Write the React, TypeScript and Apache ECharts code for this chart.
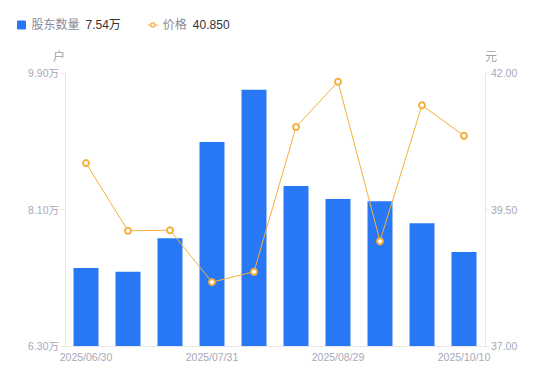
import React, { useEffect, useRef } from "react";
import * as echarts from "echarts";

const categories = [
  "2025/06/30", "2025/07/10", "2025/07/20", "2025/07/31", "2025/08/10",
  "2025/08/20", "2025/08/29", "2025/09/10", "2025/09/30", "2025/10/10",
];
const holders = [7.33, 7.28, 7.72, 8.99, 9.68, 8.41, 8.24, 8.21, 7.92, 7.54];
const prices = [40.35, 39.11, 39.12, 38.17, 38.36, 41.01, 41.84, 38.92, 41.41, 40.85];
const leftTicks = { min: 6.3, max: 9.9, interval: 1.8 };
const rightTicks = { min: 37, max: 42, interval: 2.5 };

const FONT = "'Liberation Sans', 'Noto Sans CJK SC', sans-serif";
const SQUARE_ICON =
  "path://M1.2 0 H7.8 Q9 0 9 1.2 V7.8 Q9 9 7.8 9 H1.2 Q0 9 0 7.8 V1.2 Q0 0 1.2 0 Z";
const LINE_ICON =
  "path://M0 4 H2.3 V5 H0 Z M7.7 4 H10 V5 H7.7 Z " +
  "M7.7 4.5 A2.7 2.7 0 1 1 2.3 4.5 A2.7 2.7 0 1 1 7.7 4.5 Z " +
  "M6.4 4.5 A1.4 1.4 0 1 0 3.6 4.5 A1.4 1.4 0 1 0 6.4 4.5 Z";

export default function App() {
  const ref = useRef<HTMLDivElement>(null);
  useEffect(() => {
    const chart = echarts.init(ref.current!, null, { renderer: "svg" });
    const lastHolder = holders[holders.length - 1];
    const lastPrice = prices[prices.length - 1];
    chart.setOption({
      animation: false,
      legend: {
        left: 12,
        top: 14,
        itemWidth: 10,
        itemHeight: 9,
        itemGap: 27,
        data: [
          { name: "股东数量", icon: SQUARE_ICON },
          { name: "价格", icon: LINE_ICON },
        ],
        formatter: (name: string) =>
          name === "股东数量"
            ? `{n|${name}}{v|${lastHolder.toFixed(2)}万}`
            : `{n|${name}}{v|${lastPrice.toFixed(3)}}`,
        textStyle: {
          fontSize: 12,
          fontFamily: FONT,
          rich: {
            n: { color: "#8a8a98", fontSize: 12, fontFamily: FONT, padding: [0, 6, 0, 0] },
            v: { color: "#333", fontSize: 12, fontFamily: FONT },
          },
        },
      },
      grid: { left: 65, right: 65, top: 73, bottom: 35 },
      xAxis: {
        type: "category",
        data: categories,
        axisLine: { lineStyle: { color: "#e6e6e6" } },
        axisTick: { show: false },
        axisLabel: {
          color: "#a8a8b8",
          fontSize: 10.5,
          interval: 2,
          margin: 6,
          fontFamily: FONT,
        },
      },
      yAxis: [
        {
          type: "value",
          name: "户",
          nameGap: 10,
          nameTextStyle: { color: "#a0a0ae", fontSize: 12, align: "right", fontFamily: FONT },
          min: leftTicks.min,
          max: leftTicks.max,
          interval: leftTicks.interval,
          splitLine: { show: false },
          axisLine: { show: true, lineStyle: { color: "#e6e6e6" } },
          axisTick: { show: true, length: 4, lineStyle: { color: "#e6e6e6" } },
          axisLabel: {
            color: "#a8a8b8",
            fontSize: 10.5,
            margin: 6,
            fontFamily: FONT,
            formatter: (v: number) => v.toFixed(2) + "万",
          },
        },
        {
          type: "value",
          name: "元",
          nameGap: 10,
          nameTextStyle: { color: "#a0a0ae", fontSize: 12, align: "left", fontFamily: FONT },
          min: rightTicks.min,
          max: rightTicks.max,
          interval: rightTicks.interval,
          splitLine: { show: false },
          axisLine: { show: true, lineStyle: { color: "#e6e6e6" } },
          axisTick: { show: true, length: 4, lineStyle: { color: "#e6e6e6" } },
          axisLabel: {
            color: "#a8a8b8",
            fontSize: 10.5,
            margin: 6,
            fontFamily: FONT,
            formatter: (v: number) => v.toFixed(2),
          },
        },
      ],
      series: [
        {
          name: "股东数量",
          type: "bar",
          data: holders,
          barWidth: 25,
          itemStyle: { color: "#2878f5" },
        },
        {
          name: "价格",
          type: "line",
          yAxisIndex: 1,
          data: prices,
          symbol: "emptyCircle",
          symbolSize: 6,
          lineStyle: { color: "#f5b03a", width: 1 },
          itemStyle: { color: "#f5b03a", borderWidth: 2 },
        },
      ],
    });
    return () => chart.dispose();
  }, []);
  return <div ref={ref} style={{ width: 550, height: 381, marginLeft: -8, marginTop: -8 }} />;
}
